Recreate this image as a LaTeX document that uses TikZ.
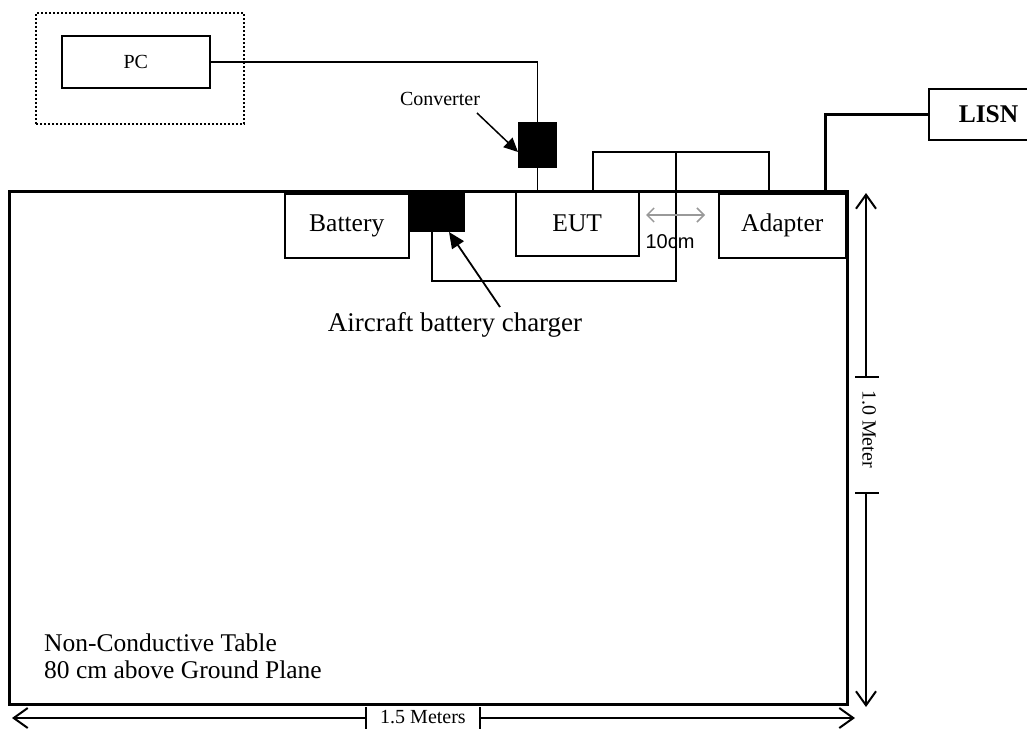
\documentclass[tikz,border=0pt]{standalone}
\usepackage{fontspec}
\setmainfont{Liberation Serif}
\newfontfamily\arialfont{Liberation Sans}
\usetikzlibrary{arrows.meta}
\begin{document}
\begin{tikzpicture}[x=1pt,y=-1pt,
  box/.style={draw,line width=1.5pt,inner sep=0pt,font=\fontsize{25.5}{28}\selectfont},
  blk/.style={draw,fill=black,line width=1pt,inner sep=0pt},
  wire/.style={line width=1.7pt},
  thickwire/.style={line width=3pt},
  barb/.style={-{Straight Barb[length=14pt,width=20pt,line width=2pt]}},
  lbl/.style={font=\fontsize{25.5}{28}\selectfont,inner sep=0pt},
  small/.style={font=\fontsize{20}{22}\selectfont,inner sep=0pt}]
\useasboundingbox (0,0) rectangle (1027,728);
% table
\draw[line width=3pt] (9,191) rectangle (847,704);
% PC
\node[draw,dotted,line width=2pt,minimum width=208pt,minimum height=111pt,anchor=north west] (pcouter) at (35,12) {};
\node[box,minimum width=148pt,minimum height=52pt,anchor=north west,font=\fontsize{20}{22}\selectfont] (pc) at (61,35) {PC};
% converter
\node[blk,minimum width=38pt,minimum height=45pt,anchor=north west] (conv) at (518,122) {};
% EUT
\node[box,minimum width=123pt,minimum height=64pt,anchor=north west] (eut) at (515,191) {EUT};
% battery and charger
\node[box,minimum width=124pt,minimum height=64pt,anchor=north west] (battery) at (284,193) {Battery};
\node[blk,minimum width=56pt,minimum height=38pt,anchor=north west] (charger) at (408,193) {};
% adapter
\node[box,minimum width=127pt,minimum height=64pt,anchor=north west] (adapter) at (718,193) {Adapter};
% LISN
\node[box,minimum width=104pt,minimum height=51pt,anchor=north west,font=\fontsize{25.5}{28}\selectfont\bfseries,text width=104pt,align=left] (lisn) at (928,88) {\hspace*{30pt}LISN};
% wires
\draw[wire] (pc.east) -| (conv.north);
\draw[wire] (conv.south) -- (conv.south |- eut.north);
\coordinate (loopL) at (593,152);
\coordinate (loopR) at (769,152);
\coordinate (loopM) at (676,152);
\coordinate (loopB) at (676,281);
\coordinate (loopC) at (432,281);
\draw[wire] (eut.north -| loopL) -- (loopL) -- (loopR) -- (loopR |- adapter.north);
\draw[wire] (loopM) -- (loopB) -- (loopC) -- (loopC |- charger.south);
\coordinate (lisnUp) at (825,112);
\draw[thickwire] (adapter.north -| lisnUp) |- (lisn.west);
% labels and pointer arrows
\node[small] (convlbl) at (440,99) {Converter};
\draw[line width=1.5pt,-{Triangle[length=14pt,width=13pt]}] (477,113) -- (conv.west |- 0,152);
\node[lbl,font=\fontsize{27}{30}\selectfont,anchor=north] (chglbl) at (455,312) {Aircraft battery charger};
\draw[line width=1.8pt,-{Triangle[length=16pt,width=14pt]}] (500,307) -- (449,232);
\node[lbl,anchor=west,align=left,font=\fontsize{25.5}{27}\selectfont] (tbl) at (44,656) {Non-Conductive Table\\80 cm above Ground Plane};
% 10cm
\coordinate (tenL) at (646,215);
\coordinate (tenR) at (705,215);
\draw[gray!80,line width=1.5pt,{Straight Barb[length=7pt,width=14pt]}-{Straight Barb[length=7pt,width=14pt]}] (tenL) -- (tenR);
\node[inner sep=0pt,font=\arialfont\fontsize{20}{22}\selectfont] (tenlbl) at (670,242) {10cm};
% vertical dimension
\coordinate (vTop) at (866,193);
\coordinate (vT1) at (866,377);
\coordinate (vT2) at (866,493);
\coordinate (vBot) at (866,707);
\draw[line width=1.5pt,barb] (vT1) -- (vTop);
\draw[line width=1.5pt,barb] (vT2) -- (vBot);
\draw[line width=1.5pt] ([xshift=-11pt]vT1) -- ([xshift=13pt]vT1);
\draw[line width=1.5pt] ([xshift=-11pt]vT2) -- ([xshift=13pt]vT2);
\node[small,rotate=-90] (vlbl) at (869,429) {1.0 Meter};
% horizontal dimension
\coordinate (hL) at (12,718);
\coordinate (hT1) at (366,718);
\coordinate (hT2) at (480,718);
\coordinate (hR) at (855,718);
\draw[line width=2pt,barb] (hT1) -- (hL);
\draw[line width=2pt,barb] (hT2) -- (hR);
\draw[line width=1.5pt] ([yshift=-11pt]hT1) -- ([yshift=11pt]hT1);
\draw[line width=1.5pt] ([yshift=-11pt]hT2) -- ([yshift=11pt]hT2);
\node[small] (hlbl) at (423,717) {1.5 Meters};
\end{tikzpicture}
\end{document}
